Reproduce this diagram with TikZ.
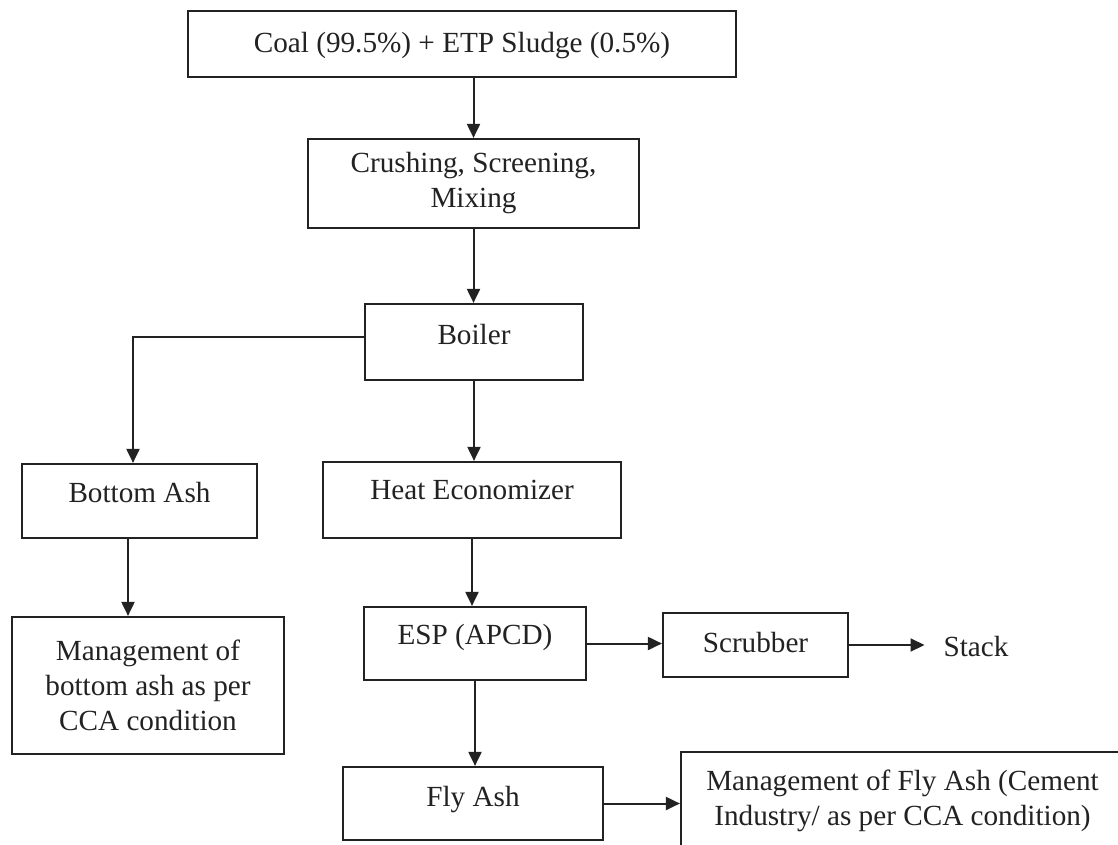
\documentclass[tikz,border=0pt]{standalone}
\usepackage{fontspec}
\setmainfont{Liberation Serif}
\usepackage{tikz}
\usetikzlibrary{arrows.meta,calc,positioning}
\definecolor{ink}{HTML}{222222}

\begin{document}
\begin{tikzpicture}[x=0.5pt,y=-0.5pt,>={Triangle[length=7pt,width=6.5pt]},
  font=\fontsize{14.6}{17.5}\selectfont,
  procbox/.style={draw=ink,line width=1.1pt,align=center,inner sep=0pt,text=ink},
  lift/.style={text height=10pt,text depth=#1},
  flow/.style={->,ink,line width=1pt}]
\clip (0,0) rectangle (1118,845);
\fill[white] (0,0) rectangle (1118,845);
\node[procbox,lift=1pt,minimum width=274pt,minimum height=33pt] (coal) at (462,44) {Coal (99.5\%) + ETP Sludge (0.5\%)};
\node[procbox,minimum width=165.5pt,minimum height=44.5pt] (crush) at (473.5,183.5) {Crushing, Screening,\\Mixing};
\node[procbox,lift=7.4pt,minimum width=109pt,minimum height=38pt] (boiler) at (474,342) {Boiler};
\node[procbox,lift=8.4pt,minimum width=117.5pt,minimum height=37pt] (bash) at (139.5,501) {Bottom Ash};
\node[procbox,lift=10.4pt,minimum width=149pt,minimum height=38pt] (heco) at (472,500) {Heat Economizer};
\node[procbox,minimum width=136pt,minimum height=68.5pt] (mbash) at (148,685.5) {Management of\\bottom ash as per\\CCA condition};
\node[procbox,lift=8.9pt,minimum width=111pt,minimum height=36.5pt] (esp) at (475,643.5) {ESP (APCD)};
\node[procbox,lift=2.4pt,minimum width=92.5pt,minimum height=32pt] (scrub) at (755.5,645) {Scrubber};
\node[text=ink] (stack) at (976,647) {Stack};
\node[procbox,lift=6.9pt,minimum width=130pt,minimum height=36.5pt] (fash) at (473,803.5) {Fly Ash};
\node[procbox,minimum width=221.5pt,minimum height=49pt] (mfash) at (902.5,801) {Management of Fly Ash (Cement\\Industry/ as per CCA condition)};
\draw[flow] (coal.south -| crush.north) -- (crush.north);
\draw[flow] (crush.south) -- (crush.south |- boiler.north);
\draw[flow] ([yshift=2.5pt]boiler.west) -| ([xshift=-3.25pt]bash.north);
\draw[flow] (boiler.south) -- (boiler.south |- heco.north);
\draw[flow] ([xshift=-5.75pt]bash.south) -- ([xshift=-5.75pt]bash.south |- mbash.north);
\draw[flow] (heco.south) -- (heco.south |- esp.north);
\draw[flow] (esp.east) -- (esp.east -| scrub.west);
\draw[flow,shorten >=6pt] (scrub.east) -- (scrub.east -| stack.west);
\draw[flow] (esp.south) -- (esp.south |- fash.north);
\draw[flow] (fash.east) -- (fash.east -| mfash.west);
\end{tikzpicture}
\end{document}
